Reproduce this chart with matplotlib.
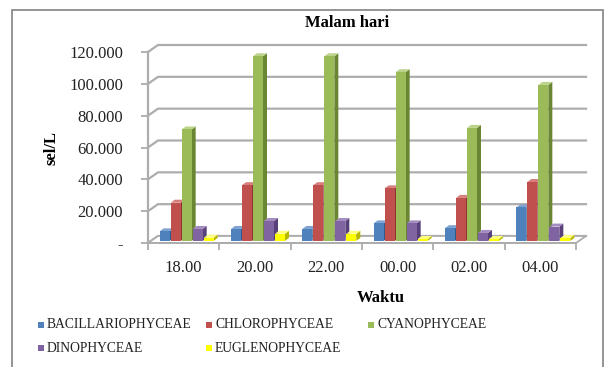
import numpy as np
import matplotlib
matplotlib.use("Agg")
import matplotlib.pyplot as plt
from matplotlib.patches import Polygon, Rectangle
from matplotlib.ticker import FuncFormatter, FixedLocator


# ==========================================================
# DATA
# ==========================================================

WAKTU = ["18.00", "20.00", "22.00", "00.00", "02.00", "04.00"]

BACILLARIOPHYCEAE = [6000, 7500, 7500, 11000, 8000, 21000]
CHLOROPHYCEAE = [24000, 35000, 35000, 33000, 27000, 37000]
CYANOPHYCEAE = [70000, 116000, 116000, 106000, 71000, 98000]
DINOPHYCEAE = [7500, 12500, 12500, 11000, 5000, 9000]
EUGLENOPHYCEAE = [2000, 4500, 4500, 1200, 1200, 1800]

GROUPS = ["BACILLARIOPHYCEAE", "CHLOROPHYCEAE", "CYANOPHYCEAE",
          "DINOPHYCEAE", "EUGLENOPHYCEAE"]
SERIES = [BACILLARIOPHYCEAE, CHLOROPHYCEAE, CYANOPHYCEAE,
          DINOPHYCEAE, EUGLENOPHYCEAE]

Y_TICKS = [0, 20000, 40000, 60000, 80000, 100000, 120000]


# ==========================================================
# STYLE
# ==========================================================

W_PX, H_PX = 614, 367
DPI = 100

FRONT = ["#4F81BD", "#C0504D", "#9BBB59", "#8064A2", "#FFFF00"]
SIDE = ["#2E5A8C", "#8C3331", "#6A8633", "#58417A", "#B8B800"]
TOP = ["#7FA3D1", "#D67F7C", "#BBD38A", "#A38CC0", "#FFFF80"]

GRID = "#ADADAD"
SERIF = "Liberation Serif"

plt.rcParams["font.family"] = [SERIF, "DejaVu Serif"]


def fig_box(x0, y0, x1, y1):
    # pixel box (top-left origin) -> figure fraction [l, b, w, h]
    return [x0 / W_PX, 1 - y1 / H_PX, (x1 - x0) / W_PX, (y1 - y0) / H_PX]


def main():
    fig = plt.figure(figsize=(W_PX / DPI, H_PX / DPI), dpi=DPI)
    fig.patch.set_facecolor("white")

    # front axis frame
    ax_l, ax_t, ax_r, ax_b = 148, 52, 576, 243
    ax = fig.add_axes(fig_box(ax_l, ax_t, ax_r, ax_b))
    ax.set_xlim(-0.5, 5.5)
    ax.set_ylim(0, 120000)
    ax.patch.set_alpha(0)

    px_x = (ax_r - ax_l) / 6.0          # pixels per category
    px_y = (ax_b - ax_t) / 120000.0     # pixels per unit

    # depth of the floor / back wall
    dx = 10 / px_x
    dy = 7 / px_y

    # back wall gridlines with the diagonal link to the front axis
    for v in Y_TICKS:
        ax.plot([-0.5, -0.5 + dx, 5.5 + dx], [v, v + dy, v + dy],
                color=GRID, lw=1.6, clip_on=False, zorder=1,
                solid_joinstyle="round")

    # floor
    floor = Polygon([(-0.5, 0), (5.5, 0), (5.5 + dx, dy), (-0.5 + dx, dy)],
                    closed=True, facecolor="white", edgecolor=GRID,
                    lw=1.3, clip_on=False, zorder=1.5)
    ax.add_patch(floor)

    # bars
    bw = 10 / px_x
    step = 11 / px_x
    bdx = 4 / px_x
    bdy = 3 / px_y
    fx = 0.3 * dx
    fy = 0.3 * dy
    x = np.arange(len(WAKTU))
    for k, vals in enumerate(SERIES):
        for i, v in enumerate(vals):
            x0 = x[i] + (k - 2) * step - bw / 2 + fx
            y0 = fy
            y1 = fy + v
            z = 3 + i * 0.1 + k * 0.01
            ax.add_patch(Polygon([(x0 + bw, y0), (x0 + bw + bdx, y0 + bdy),
                                  (x0 + bw + bdx, y1 + bdy), (x0 + bw, y1)],
                                 closed=True, facecolor=SIDE[k],
                                 edgecolor="none", clip_on=False, zorder=z))
            ax.add_patch(Polygon([(x0, y1), (x0 + bdx, y1 + bdy),
                                  (x0 + bw + bdx, y1 + bdy), (x0 + bw, y1)],
                                 closed=True, facecolor=TOP[k],
                                 edgecolor="none", clip_on=False, zorder=z))
            ax.add_patch(Rectangle((x0, y0), bw, v, facecolor=FRONT[k],
                                   edgecolor="none", clip_on=False, zorder=z))

    # spines and ticks
    for s in ["top", "right"]:
        ax.spines[s].set_visible(False)
    ax.spines["left"].set_color(GRID)
    ax.spines["left"].set_linewidth(1.6)
    ax.spines["bottom"].set_color(GRID)
    ax.spines["bottom"].set_linewidth(1.3)

    ax.yaxis.set_major_locator(FixedLocator(Y_TICKS))
    ax.yaxis.set_major_formatter(FuncFormatter(
        lambda v, p: "-" if v == 0 else f"{v:,.0f}".replace(",", ".")))
    ax.tick_params(axis="y", length=5, width=1.3, color=GRID,
                   labelsize=12, pad=13, labelcolor="#222222")

    ax.set_xticks(x)
    ax.set_xticklabels(WAKTU)
    ax.set_xticks(np.arange(-0.5, 6.0, 1.0), minor=True)
    ax.tick_params(axis="x", which="major", length=0, labelsize=12, pad=12,
                   labelcolor="#222222")
    ax.tick_params(axis="x", which="minor", length=5, width=1.3, color=GRID)

    # texts
    fig.text(347 / W_PX, 1 - 23 / H_PX, "Malam hari", ha="center",
             va="center", fontsize=12, fontweight="bold")
    fig.text(52 / W_PX, 1 - 148 / H_PX, "sel/L", ha="center", va="center",
             rotation=90, fontsize=12, fontweight="bold")
    fig.text(381 / W_PX, 1 - 298 / H_PX, "Waktu", ha="center", va="center",
             fontsize=12, fontweight="bold")

    # legend
    col_x = [41, 209, 371]
    row_y = [325, 348]
    for i, name in enumerate(GROUPS):
        lx = col_x[i % 3]
        ly = row_y[i // 3]
        fig.patches.append(Rectangle(((lx - 3) / W_PX, 1 - (ly + 3) / H_PX),
                                     6 / W_PX, 6 / H_PX,
                                     transform=fig.transFigure,
                                     facecolor=FRONT[i], edgecolor="none"))
        fig.text((lx + 6) / W_PX, 1 - ly / H_PX, name, ha="left",
                 va="center", fontsize=9.8, color="#222222")

    # chart border
    fig.patches.append(Rectangle((12 / W_PX, -0.05), (603 - 12) / W_PX,
                                 1.05 - 10 / H_PX, transform=fig.transFigure,
                                 fill=False, edgecolor="#8C8C8C", lw=1.3))

    fig.savefig("out.png", dpi=DPI)
    plt.close(fig)


if __name__ == "__main__":
    main()
